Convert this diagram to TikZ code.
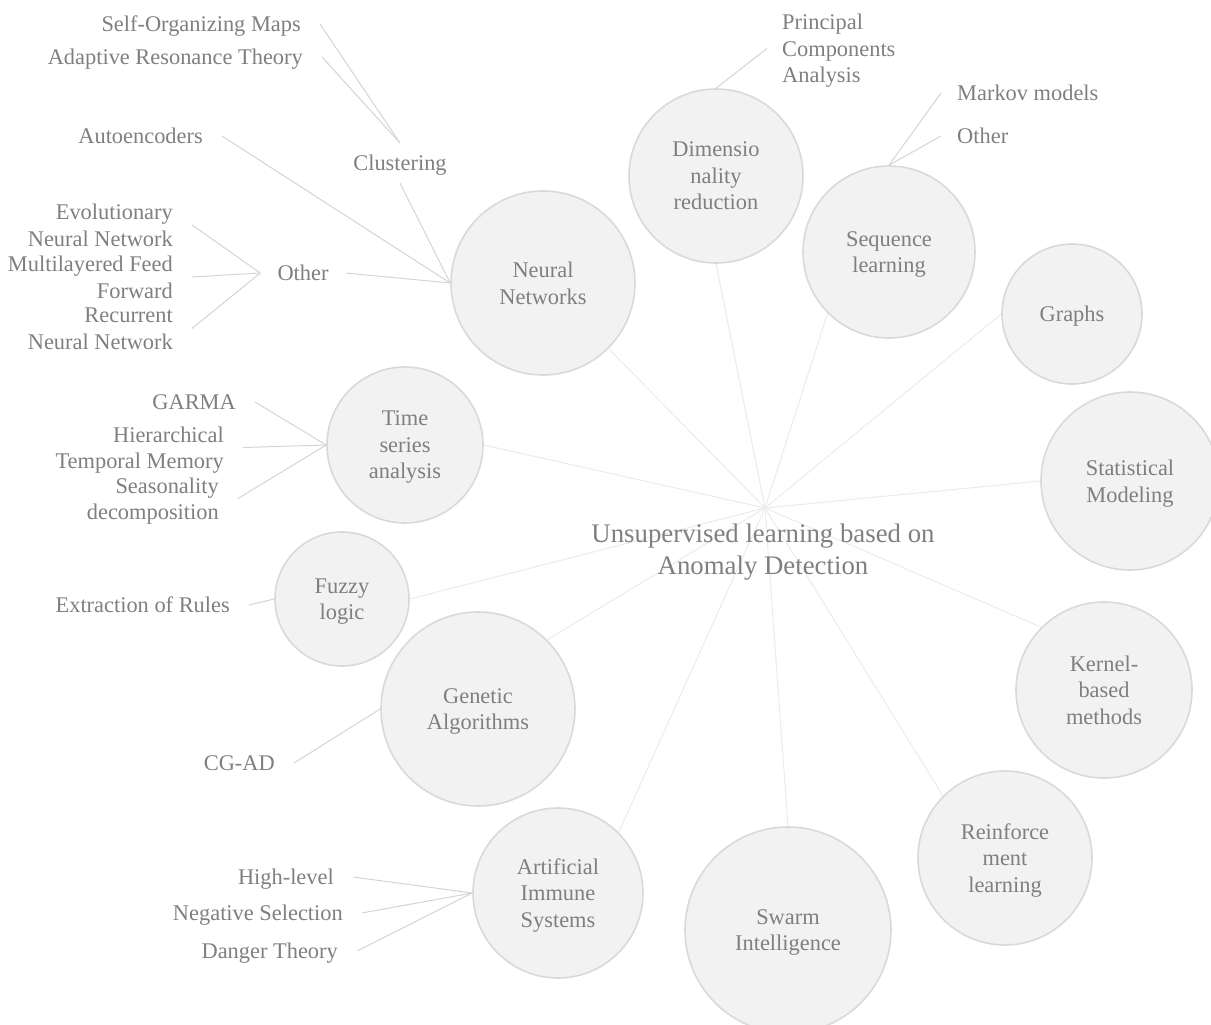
\documentclass[tikz,border=0pt]{standalone}
\usepackage{fontspec}
\setmainfont{Liberation Serif}
\usetikzlibrary{backgrounds}
\definecolor{txt}{HTML}{7F7F7F}
\definecolor{ring}{HTML}{D9D9D9}
\definecolor{disc}{HTML}{F2F2F2}
\definecolor{leafline}{HTML}{D4D4D4}
\definecolor{hubline}{HTML}{EBEBEB}

\begin{document}
\begin{tikzpicture}[x=1pt,y=-1pt,
  every node/.style={text=txt, font=\fontsize{22.4}{26.5}\selectfont, text depth=0pt},
  topic/.style={circle, draw=ring, fill=disc, line width=1.6pt,
    minimum size=#1, inner sep=0pt, align=center},
  leafr/.style={anchor=east, align=right, inner xsep=19pt, inner ysep=0pt},
  leafl/.style={anchor=west, align=left, inner xsep=15pt, inner ysep=0pt},
  branch/.style={draw=leafline, line width=1pt},
  spoke/.style={draw=hubline, line width=1pt}]

\useasboundingbox (0,0) rectangle (1211,1025);

% centre of the star and its caption
\coordinate (hub) at (765,508);
\node[font=\fontsize{26.8}{32}\selectfont, align=center] (title) at (763,549)
  {Unsupervised learning based on\\Anomaly Detection};

% topic circles
\node[topic=184pt] (nn)  at (543,283)  {Neural\\Networks};
\node[topic=174pt] (dim) at (716,176)  {Dimensio\\nality\\reduction};
\node[topic=172pt] (seq) at (889,252)  {Sequence\\learning};
\node[topic=140pt] (gra) at (1072,314) {Graphs};
\node[topic=178pt] (sta) at (1130,481) {Statistical\\Modeling};
\node[topic=176pt] (ker) at (1104,690) {Kernel-\\based\\methods};
\node[topic=174pt] (rei) at (1005,858) {Reinforce\\ment\\learning};
\node[topic=206pt] (swa) at (788,930)  {Swarm\\Intelligence};
\node[topic=170pt] (ais) at (558,893)  {Artificial\\Immune\\Systems};
\node[topic=194pt] (gen) at (478,709)  {Genetic\\Algorithms};
\node[topic=134pt] (fuz) at (342,599)  {Fuzzy\\logic};
\node[topic=156pt] (tsa) at (405,445)  {Time\\series\\analysis};

% neural network sub-topics
\node[leafr] (som) at (320,24)  {Self-Organizing Maps};
\node[leafr] (art) at (322,57)  {Adaptive Resonance Theory};
\node[inner xsep=0pt, inner ysep=12pt] (clu) at (400,163) {Clustering};
\node[leafr] (aut) at (222,136) {Autoencoders};
\node[inner xsep=17pt, inner ysep=0pt] (oth) at (303,273) {Other};
\node[leafr] (evo) at (192,225)   {Evolutionary\\Neural Network};
\node[leafr] (mlf) at (192,277)   {Multilayered Feed\\Forward};
\node[leafr] (rnn) at (192,328.5) {Recurrent\\Neural Network};

% dimensionality reduction and sequence learning
\node[leafl] (pca) at (767,48.5) {Principal\\Components\\Analysis};
\node[leafl, inner xsep=16pt] (mkv) at (941,93)  {Markov models};
\node[leafl, inner xsep=16pt] (sqo) at (941,136) {Other};

% time series, fuzzy logic, genetic algorithms
\node[leafr] (gar) at (255,402)   {GARMA};
\node[leafr] (htm) at (243,447.5) {Hierarchical\\Temporal Memory};
\node[leafr] (sea) at (238,498.5) {Seasonality\\decomposition};
\node[leafr] (exr) at (249,605)   {Extraction of Rules};
\node[leafr] (cga) at (294,763)   {CG-AD};

% artificial immune systems
\node[leafr] (hil) at (353,877) {High-level};
\node[leafr] (neg) at (362,913) {Negative Selection};
\node[leafr] (dan) at (357,951) {Danger Theory};

\begin{scope}[on background layer]
  % spokes from the centre
  \draw[spoke] (hub) -- (nn.-45);
  \draw[spoke] (hub) -- (dim.-90);
  \draw[spoke] (hub) -- (seq.-135);
  \draw[spoke] (hub) -- (gra.180);
  \draw[spoke] (hub) -- (sta.180);
  \draw[spoke] (hub) -- (ker.135);
  \draw[spoke] (hub) -- (rei.135);
  \draw[spoke] (hub) -- (swa.90);
  \draw[spoke] (hub) -- (ais.45);
  \draw[spoke] (hub) -- (gen.45);
  \draw[spoke] (hub) -- (fuz.0);
  \draw[spoke] (hub) -- (tsa.0);
  % branches to sub-topics
  \draw[branch] (som.east) -- (clu.north);
  \draw[branch] (art.east) -- (clu.north);
  \draw[branch] (clu.south) -- (nn.west);
  \draw[branch] (aut.east) -- (nn.west);
  \draw[branch] (oth.east) -- (nn.west);
  \draw[branch] (evo.east) -- (oth.west);
  \draw[branch] (mlf.east) -- (oth.west);
  \draw[branch] (rnn.east) -- (oth.west);
  \draw[branch] (pca.west) -- (dim.north);
  \draw[branch] (mkv.west) -- (seq.north);
  \draw[branch] (sqo.west) -- (seq.north);
  \draw[branch] (gar.east) -- (tsa.west);
  \draw[branch] (htm.east) -- (tsa.west);
  \draw[branch] (sea.east) -- (tsa.west);
  \draw[branch] (exr.east) -- (fuz.west);
  \draw[branch] (cga.east) -- (gen.west);
  \draw[branch] (hil.east) -- (ais.west);
  \draw[branch] (neg.east) -- (ais.west);
  \draw[branch] (dan.east) -- (ais.west);
\end{scope}
\end{tikzpicture}
\end{document}
